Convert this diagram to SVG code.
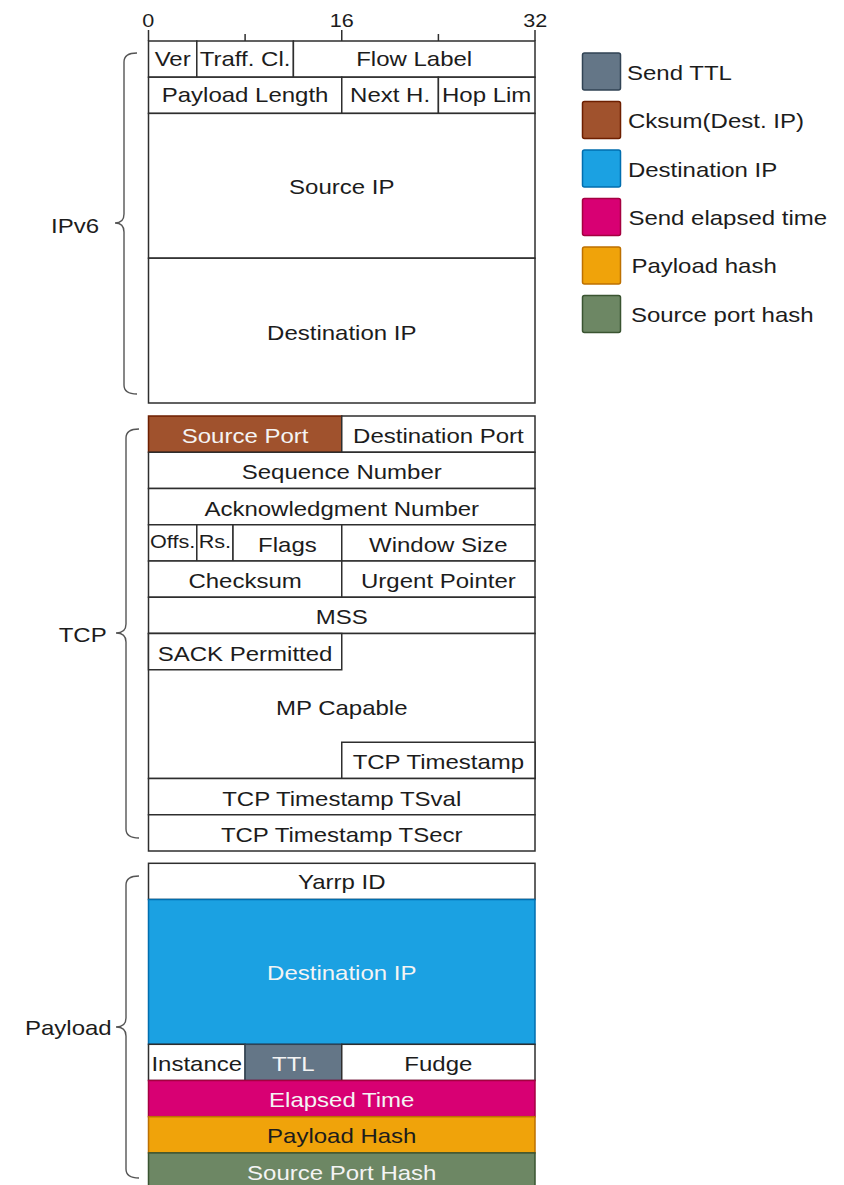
<svg xmlns="http://www.w3.org/2000/svg" width="844" height="1185" viewBox="0 0 844 1185">
  <style>
    text { font-family: "Liberation Sans", Arial, sans-serif; font-size: 20px; fill: #1c1c1c; }
    .c { text-anchor: middle; }
    .e { text-anchor: end; }
    .sm { font-size: 18px; }
    .w { fill: #f4f4f4; }
    .cell { fill: #ffffff; stroke: #2e2e2e; stroke-width: 1.5; }
    .steel { fill: #647687; stroke: #314354; stroke-width: 1.5; }
    .sienna { fill: #a0522d; stroke: #6d1f00; stroke-width: 1.5; }
    .cyan { fill: #1ba1e2; stroke: #006eaf; stroke-width: 1.5; }
    .magenta { fill: #d80073; stroke: #a50040; stroke-width: 1.5; }
    .amber { fill: #f0a30a; stroke: #bd7000; stroke-width: 1.5; }
    .olive { fill: #6d8764; stroke: #3a5431; stroke-width: 1.5; }
    .brace { fill: none; stroke: #555555; stroke-width: 1.4; }
    .tick { stroke: #2e2e2e; stroke-width: 1.5; }
  </style>

  <rect width="844" height="1185" fill="#ffffff"/>

  <!-- bit ruler: 0 / 16 / 32 -->
  <g id="ruler">
    <line class="tick" x1="148.5" y1="30" x2="148.5" y2="41"/>
    <line class="tick" x1="245.1" y1="34" x2="245.1" y2="41"/>
    <line class="tick" x1="341.75" y1="30" x2="341.75" y2="41"/>
    <line class="tick" x1="438.4" y1="34" x2="438.4" y2="41"/>
    <line class="tick" x1="535" y1="30" x2="535" y2="41"/>
    <text class="c sm" transform="scale(1.2,1)" x="123.5" y="26.7">0</text>
    <text class="c sm" transform="scale(1.2,1)" x="284.75" y="26.7">16</text>
    <text class="c sm" transform="scale(1.2,1)" x="446" y="26.7">32</text>
  </g>

  <!-- IPv6 header -->
  <g id="ipv6">
    <g id="ipv6-ver">
      <rect class="cell" x="148.5" y="41" width="48.3" height="36.2"/>
      <text class="c" transform="scale(1.2,1)" x="143.875" y="65.7">Ver</text>
    </g>
    <g id="ipv6-traffic-class">
      <rect class="cell" x="196.8" y="41" width="96.6" height="36.2"/>
      <text class="c" transform="scale(1.2,1)" x="204.25" y="65.7">Traff. Cl.</text>
    </g>
    <g id="ipv6-flow-label">
      <rect class="cell" x="293.4" y="41" width="241.6" height="36.2"/>
      <text class="c" transform="scale(1.2,1)" x="345.17" y="65.7">Flow Label</text>
    </g>
    <g id="ipv6-payload-length">
      <rect class="cell" x="148.5" y="77.2" width="193.25" height="36.2"/>
      <text class="c" transform="scale(1.2,1)" x="204.25" y="101.8">Payload Length</text>
    </g>
    <g id="ipv6-next-header">
      <rect class="cell" x="341.75" y="77.2" width="96.65" height="36.2"/>
      <text class="c" transform="scale(1.2,1)" x="325.08" y="101.8">Next H.</text>
    </g>
    <g id="ipv6-hop-limit">
      <rect class="cell" x="438.4" y="77.2" width="96.6" height="36.2"/>
      <text class="c" transform="scale(1.2,1)" x="405.58" y="101.8">Hop Lim</text>
    </g>
    <g id="ipv6-source-ip">
      <rect class="cell" x="148.5" y="113.4" width="386.5" height="144.8"/>
      <text class="c" transform="scale(1.2,1)" x="284.79" y="194.3">Source IP</text>
    </g>
    <g id="ipv6-destination-ip">
      <rect class="cell" x="148.5" y="258.2" width="386.5" height="144.8"/>
      <text class="c" transform="scale(1.2,1)" x="284.79" y="340">Destination IP</text>
    </g>
  </g>

  <!-- TCP header -->
  <g id="tcp">
    <g id="tcp-source-port">
      <rect class="sienna" x="148.5" y="416" width="193.25" height="36.25"/>
      <text class="c w" transform="scale(1.2,1)" x="204.25" y="443.1">Source Port</text>
    </g>
    <g id="tcp-destination-port">
      <rect class="cell" x="341.75" y="416" width="193.25" height="36.25"/>
      <text class="c" transform="scale(1.2,1)" x="365.33" y="443.1">Destination Port</text>
    </g>
    <g id="tcp-sequence-number">
      <rect class="cell" x="148.5" y="452.25" width="386.5" height="36.25"/>
      <text class="c" transform="scale(1.2,1)" x="284.79" y="479.4">Sequence Number</text>
    </g>
    <g id="tcp-ack-number">
      <rect class="cell" x="148.5" y="488.5" width="386.5" height="36.25"/>
      <text class="c" transform="scale(1.2,1)" x="284.79" y="515.6">Acknowledgment Number</text>
    </g>
    <g id="tcp-offset">
      <rect class="cell" x="148.5" y="524.75" width="48.3" height="36.25"/>
      <text class="c sm" transform="scale(1.2,1)" x="143.875" y="548.5">Offs.</text>
    </g>
    <g id="tcp-reserved">
      <rect class="cell" x="196.8" y="524.75" width="36.2" height="36.25"/>
      <text class="c sm" transform="scale(1.2,1)" x="179.08" y="548.5">Rs.</text>
    </g>
    <g id="tcp-flags">
      <rect class="cell" x="233" y="524.75" width="108.75" height="36.25"/>
      <text class="c" transform="scale(1.2,1)" x="239.5" y="551.9">Flags</text>
    </g>
    <g id="tcp-window-size">
      <rect class="cell" x="341.75" y="524.75" width="193.25" height="36.25"/>
      <text class="c" transform="scale(1.2,1)" x="365.33" y="551.9">Window Size</text>
    </g>
    <g id="tcp-checksum">
      <rect class="cell" x="148.5" y="561" width="193.25" height="36.25"/>
      <text class="c" transform="scale(1.2,1)" x="204.25" y="588.1">Checksum</text>
    </g>
    <g id="tcp-urgent-pointer">
      <rect class="cell" x="341.75" y="561" width="193.25" height="36.25"/>
      <text class="c" transform="scale(1.2,1)" x="365.33" y="588.1">Urgent Pointer</text>
    </g>
    <g id="tcp-mss">
      <rect class="cell" x="148.5" y="597.25" width="386.5" height="36.25"/>
      <text class="c" transform="scale(1.2,1)" x="284.79" y="624.4">MSS</text>
    </g>
    <g id="tcp-mp-capable">
      <rect class="cell" x="148.5" y="633.5" width="386.5" height="145"/>
      <text class="c" transform="scale(1.2,1)" x="284.79" y="714.8">MP Capable</text>
    </g>
    <g id="tcp-sack-permitted">
      <rect class="cell" x="148.5" y="633.5" width="193.25" height="36.25"/>
      <text class="c" transform="scale(1.2,1)" x="204.25" y="660.6">SACK Permitted</text>
    </g>
    <g id="tcp-timestamp">
      <rect class="cell" x="341.75" y="742.25" width="193.25" height="36.25"/>
      <text class="c" transform="scale(1.2,1)" x="365.33" y="769.4">TCP Timestamp</text>
    </g>
    <g id="tcp-tsval">
      <rect class="cell" x="148.5" y="778.5" width="386.5" height="36.25"/>
      <text class="c" transform="scale(1.2,1)" x="284.79" y="805.6">TCP Timestamp TSval</text>
    </g>
    <g id="tcp-tsecr">
      <rect class="cell" x="148.5" y="814.75" width="386.5" height="36.25"/>
      <text class="c" transform="scale(1.2,1)" x="284.79" y="841.9">TCP Timestamp TSecr</text>
    </g>
  </g>

  <!-- probe payload -->
  <g id="payload">
    <g id="payload-yarrp-id">
      <rect class="cell" x="148.5" y="863.3" width="386.5" height="36.2"/>
      <text class="c" transform="scale(1.2,1)" x="284.79" y="889.4">Yarrp ID</text>
    </g>
    <g id="payload-destination-ip">
      <rect class="cyan" x="148.5" y="899.5" width="386.5" height="144.8"/>
      <text class="c w" transform="scale(1.2,1)" x="284.79" y="980">Destination IP</text>
    </g>
    <g id="payload-instance">
      <rect class="cell" x="148.5" y="1044.3" width="96.6" height="36.2"/>
      <text class="c" transform="scale(1.2,1)" x="164" y="1070.7">Instance</text>
    </g>
    <g id="payload-ttl">
      <rect class="steel" x="245.1" y="1044.3" width="96.65" height="36.2"/>
      <text class="c w" transform="scale(1.2,1)" x="244.5" y="1070.7">TTL</text>
    </g>
    <g id="payload-fudge">
      <rect class="cell" x="341.75" y="1044.3" width="193.25" height="36.2"/>
      <text class="c" transform="scale(1.2,1)" x="365.33" y="1070.7">Fudge</text>
    </g>
    <g id="payload-elapsed-time">
      <rect class="magenta" x="148.5" y="1080.5" width="386.5" height="36.2"/>
      <text class="c w" transform="scale(1.2,1)" x="284.79" y="1107">Elapsed Time</text>
    </g>
    <g id="payload-payload-hash">
      <rect class="amber" x="148.5" y="1116.7" width="386.5" height="36.2"/>
      <text class="c" transform="scale(1.2,1)" x="284.79" y="1143.3">Payload Hash</text>
    </g>
    <g id="payload-source-port-hash">
      <rect class="olive" x="148.5" y="1152.9" width="386.5" height="36.2"/>
      <text class="c w" transform="scale(1.2,1)" x="284.79" y="1180">Source Port Hash</text>
    </g>
  </g>

  <!-- section braces and their labels -->
  <g id="braces">
    <path class="brace" d="M137,53 Q124,53 124,62 V214 Q124,223 115,223 Q124,223 124,232 V385 Q124,394 137,394"/>
    <path class="brace" d="M139,429 Q126,429 126,438 V624 Q126,633 116,633 Q126,633 126,642 V829 Q126,838 139,838"/>
    <path class="brace" d="M139,876 Q126,876 126,885 V1018 Q126,1027 116,1027 Q126,1027 126,1036 V1169 Q126,1178 139,1178"/>
    <text class="e" transform="scale(1.2,1)" x="82.5" y="232.7">IPv6</text>
    <text class="e" transform="scale(1.2,1)" x="88.9" y="641.7">TCP</text>
    <text class="e" transform="scale(1.2,1)" x="93.1" y="1035">Payload</text>
  </g>

  <!-- colour legend -->
  <g id="legend">
    <g id="legend-send-ttl">
      <rect class="steel" x="582.5" y="53" width="38" height="37" rx="2"/>
      <text transform="scale(1.2,1)" x="522.5" y="80">Send TTL</text>
    </g>
    <g id="legend-cksum">
      <rect class="sienna" x="582.5" y="101.5" width="38" height="37" rx="2"/>
      <text transform="scale(1.2,1)" x="523.3" y="128.3">Cksum(Dest. IP)</text>
    </g>
    <g id="legend-destination-ip">
      <rect class="cyan" x="582.5" y="150" width="38" height="37" rx="2"/>
      <text transform="scale(1.2,1)" x="523.3" y="176.7">Destination IP</text>
    </g>
    <g id="legend-elapsed-time">
      <rect class="magenta" x="582.5" y="198.5" width="38" height="37" rx="2"/>
      <text transform="scale(1.2,1)" x="523.7" y="225">Send elapsed time</text>
    </g>
    <g id="legend-payload-hash">
      <rect class="amber" x="582.5" y="247" width="38" height="37" rx="2"/>
      <text transform="scale(1.2,1)" x="526.2" y="273">Payload hash</text>
    </g>
    <g id="legend-source-port-hash">
      <rect class="olive" x="582.5" y="295.5" width="38" height="37" rx="2"/>
      <text transform="scale(1.2,1)" x="525.8" y="321.7">Source port hash</text>
    </g>
  </g>
</svg>
